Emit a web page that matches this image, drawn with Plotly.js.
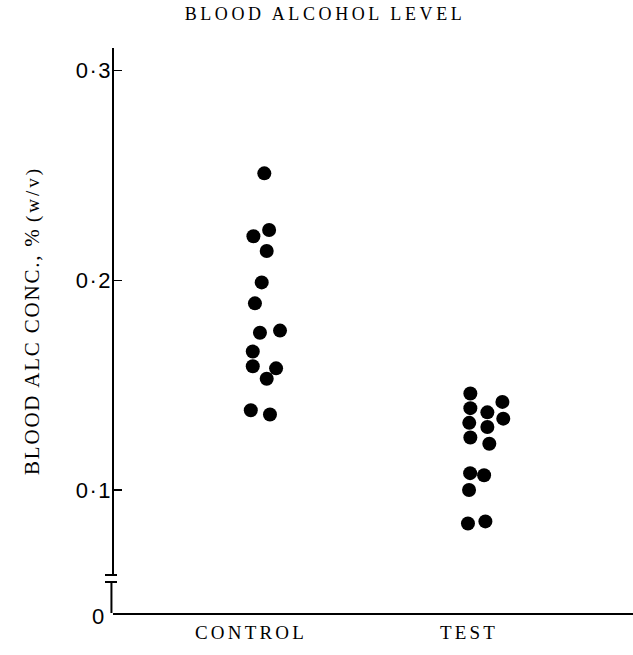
<!DOCTYPE html>
<html>
<head>
<meta charset="utf-8">
<script src="https://cdn.plot.ly/plotly-3.0.1.min.js"></script>
<style>html,body{margin:0;padding:0;background:#fff;}#chart{width:633px;height:655px;}</style>
</head>
<body>
<div id="chart"></div>
<script>
// Data
const categories = ["CONTROL", "TEST"];
const controlValues = [0.251, 0.224, 0.221, 0.214, 0.199, 0.189, 0.176, 0.175, 0.166, 0.159, 0.158, 0.153, 0.138, 0.136];
const controlJitter = [0.061, 0.083, 0.011, 0.072, 0.049, 0.018, 0.133, 0.041, 0.008, 0.008, 0.115, 0.072, -0.001, 0.087];
const testValues = [0.146, 0.142, 0.139, 0.137, 0.134, 0.132, 0.130, 0.125, 0.122, 0.108, 0.107, 0.100, 0.085, 0.084];
const testJitter = [0.006, 0.153, 0.006, 0.084, 0.157, 0.001, 0.084, 0.006, 0.093, 0.005, 0.069, 0.000, 0.075, -0.005];
const yTickVals = [0.1, 0.2, 0.3];
const yTickText = ["0·1", "0·2", "0·3"];

const serif = "Liberation Serif, Times New Roman, serif";
const sans = "Liberation Sans, Arial, sans-serif";
const sp = (t, ls) => '<span style="letter-spacing:' + ls + 'px">' + t + '</span>';

const traces = [
  {
    type: "scatter", mode: "markers", name: categories[0],
    x: controlValues.map((v, i) => 0 + controlJitter[i]),
    y: controlValues,
    marker: {size: 14, color: "#000"}
  },
  {
    type: "scatter", mode: "markers", name: categories[1],
    x: testValues.map((v, i) => 1 + testJitter[i]),
    y: testValues,
    marker: {size: 14, color: "#000"}
  }
];

const layout = {
  width: 633, height: 655,
  margin: {l: 113, r: 0, t: 48, b: 42},
  paper_bgcolor: "#fff", plot_bgcolor: "#fff",
  showlegend: false,
  title: {
    text: sp("BLOOD ALCOHOL LEVEL", 3.6),
    font: {family: serif, size: 18, color: "#000"},
    x: 325 / 633, xref: "container", xanchor: "center",
    y: 1 - 14 / 655, yref: "container", yanchor: "middle"
  },
  xaxis: {
    range: [-0.633, 1.752],
    tickvals: [0, 1],
    ticktext: categories.map(c => sp(c, 3.2)),
    tickfont: {family: serif, size: 19, color: "#000"},
    ticks: "outside", ticklen: 1, tickcolor: "rgba(0,0,0,0)",
    showline: true, linecolor: "#000", linewidth: 2,
    showgrid: false, zeroline: false, fixedrange: true
  },
  yaxis: {
    range: [0.0413, 0.3108],
    tickvals: yTickVals,
    ticktext: yTickText.map(t => sp(t, 1.5)),
    tickfont: {family: sans, size: 22, color: "#000"},
    ticks: "inside", ticklen: 9, tickwidth: 1.5, tickcolor: "#000",
    showline: false, showgrid: false, zeroline: false, fixedrange: true
  },
  shapes: [
    {type: "line", xref: "paper", yref: "paper", x0: 0, x1: 0, y0: 1, y1: 0.0673, line: {color: "#000", width: 2}},
    {type: "line", xref: "paper", yref: "paper", x0: -0.0154, x1: 0.0077, y0: 0.0673, y1: 0.0673, line: {color: "#000", width: 2}},
    {type: "line", xref: "paper", yref: "paper", x0: -0.0154, x1: 0.0077, y0: 0.0549, y1: 0.0549, line: {color: "#000", width: 2}},
    {type: "line", xref: "paper", yref: "paper", x0: -0.003, x1: -0.003, y0: 0.0549, y1: 0, line: {color: "#000", width: 2}}
  ],
  annotations: [
    {
      text: "0", xref: "paper", yref: "paper",
      x: (97.5 - 113) / 520, y: (613 - 616) / 565,
      xanchor: "center", yanchor: "middle", showarrow: false,
      font: {family: sans, size: 22, color: "#000"}
    },
    {
      text: sp("BLOOD ALC CONC., %", 1.8) + ' <span style="font-size:19px;letter-spacing:3px">(w/v)</span>',
      xref: "paper", yref: "paper",
      x: (32 - 113) / 520, y: (613 - 321) / 565,
      xanchor: "center", yanchor: "middle", textangle: -90, showarrow: false,
      font: {family: serif, size: 21, color: "#000"}
    }
  ]
};

Plotly.newPlot("chart", traces, layout, {displayModeBar: false, staticPlot: true});
</script>
</body>
</html>
